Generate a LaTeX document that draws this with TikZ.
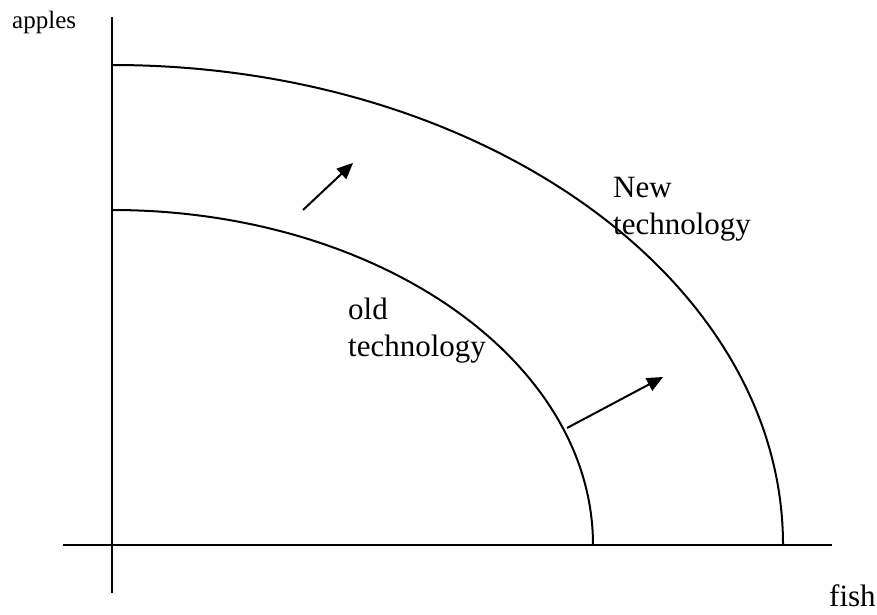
\documentclass[tikz,border=0pt]{standalone}
\usepackage{fontspec}
\setmainfont{Liberation Serif}
\usetikzlibrary{arrows.meta}
\tikzset{
  axis/.style={line width=2pt, black},
  ppf/.style={line width=2pt, black},
  shift arrow/.style={line width=2pt, -{Triangle[length=16pt,width=14pt]}},
  lbl/.style={anchor=base west, inner sep=0pt, font=\fontsize{31}{37}\selectfont},
  small lbl/.style={anchor=base west, inner sep=0pt, font=\fontsize{25}{30}\selectfont}
}
\begin{document}
\begin{tikzpicture}[x=1pt,y=1pt]
\useasboundingbox (0,0) rectangle (877,614);
% axes
\coordinate (ytop) at (112,597);
\coordinate (ybot) at (112,21);
\coordinate (xleft) at (63,69);
\coordinate (xright) at (832,69);
\draw[axis] (ybot) -- (ytop);
\draw[axis] (xleft) -- (xright);
% curves
\coordinate (innerstart) at (112,404);
\coordinate (outerstart) at (112,549);
\draw[ppf] (innerstart) arc[start angle=90, end angle=0, x radius=481, y radius=335];
\draw[ppf] (outerstart) arc[start angle=90, end angle=0, x radius=671, y radius=480];
% arrows
\coordinate (a1) at (303,404);
\coordinate (b1) at (353,451);
\coordinate (a2) at (567,186);
\coordinate (b2) at (663,237);
\draw[shift arrow] (a1) -- (b1);
\draw[shift arrow] (a2) -- (b2);
% labels
\node[small lbl] (apples) at (12,585) {apples};
\node[lbl] (fish) at (829,8) {fish};
\node[lbl] (old1) at (348,295) {old};
\node[lbl] (old2) at (348,258) {technology};
\node[lbl] (new1) at (613,416) {New};
\node[lbl] (new2) at (613,379) {technology};
\end{tikzpicture}
\end{document}
